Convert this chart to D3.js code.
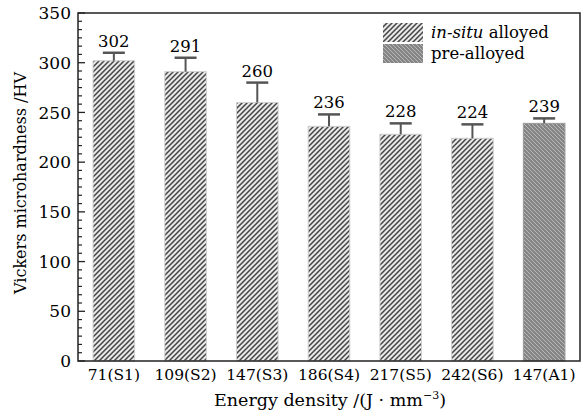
<!DOCTYPE html>
<html>
<head>
<meta charset="utf-8">
<script src="https://cdn.jsdelivr.net/npm/d3@7"></script>
<style>
  body { margin: 0; background: #fff; }
  svg { display: block; font-family: "DejaVu Serif", serif; }
</style>
</head>
<body>
<svg id="chart"></svg>
<script>
var categories = ["71(S1)", "109(S2)", "147(S3)", "186(S4)", "217(S5)", "242(S6)", "147(A1)"];
var hardness = [302, 291, 260, 236, 228, 224, 239];
var errors = [8, 14, 20, 12, 11, 14, 5];
var kinds = ["insitu", "insitu", "insitu", "insitu", "insitu", "insitu", "pre"];
var yTicks = [0, 50, 100, 150, 200, 250, 300, 350];

var width = 582;
var height = 414;
var plotLeft = 78, plotRight = 580, plotTop = 13, plotBottom = 361;

var svg = d3.select("#chart")
    .attr("width", width)
    .attr("height", height);

// hatch patterns
var defs = svg.append("defs");
var p1 = defs.append("pattern")
    .attr("id", "hatchInsitu")
    .attr("patternUnits", "userSpaceOnUse")
    .attr("width", 5)
    .attr("height", 5);
p1.append("rect").attr("width", 5).attr("height", 5).attr("fill", "#e8e8e8");
p1.append("path")
    .attr("d", "M0,5 L5,0 M-1,1 L1,-1 M4,6 L6,4")
    .attr("stroke", "#444")
    .attr("stroke-width", 1.5);

var p2 = defs.append("pattern")
    .attr("id", "hatchPre")
    .attr("patternUnits", "userSpaceOnUse")
    .attr("width", 4)
    .attr("height", 4);
p2.append("rect").attr("width", 4).attr("height", 4).attr("fill", "#858585");
p2.append("path")
    .attr("d", "M0,0 L4,4 M-1,3 L1,5 M3,-1 L5,1")
    .attr("stroke", "#b8b8b8")
    .attr("stroke-width", 1);

var xScale = d3.scaleBand()
    .domain(categories)
    .range([plotLeft, plotRight])
    .paddingInner(0.42)
    .paddingOuter(0.21);

var yScale = d3.scaleLinear()
    .domain([0, 350])
    .range([plotBottom, plotTop]);

var data = categories.map(function(c, i) {
    return { cat: c, v: hardness[i], e: errors[i], kind: kinds[i] };
});

// bars
svg.selectAll("rect.bar")
    .data(data)
    .enter()
    .append("rect")
    .attr("class", "bar")
    .attr("x", function(d) { return xScale(d.cat); })
    .attr("y", function(d) { return yScale(d.v); })
    .attr("width", xScale.bandwidth())
    .attr("height", function(d) { return yScale(0) - yScale(d.v); })
    .attr("fill", function(d) { return d.kind == "pre" ? "url(#hatchPre)" : "url(#hatchInsitu)"; })
    .attr("stroke", function(d) { return d.kind == "pre" ? "#9a9a9a" : "#cfcfcf"; })
    .attr("stroke-width", 1);

// error bars (upper only)
var cx = function(d) { return xScale(d.cat) + xScale.bandwidth() / 2; };
svg.selectAll("line.stem")
    .data(data)
    .enter()
    .append("line")
    .attr("class", "stem")
    .attr("x1", cx).attr("x2", cx)
    .attr("y1", function(d) { return yScale(d.v); })
    .attr("y2", function(d) { return yScale(d.v + d.e); })
    .attr("stroke", "#555")
    .attr("stroke-width", 2);
svg.selectAll("line.cap")
    .data(data)
    .enter()
    .append("line")
    .attr("class", "cap")
    .attr("x1", function(d) { return cx(d) - 11; })
    .attr("x2", function(d) { return cx(d) + 11; })
    .attr("y1", function(d) { return yScale(d.v + d.e); })
    .attr("y2", function(d) { return yScale(d.v + d.e); })
    .attr("stroke", "#555")
    .attr("stroke-width", 2.5);

// value labels
svg.selectAll("text.val")
    .data(data)
    .enter()
    .append("text")
    .attr("class", "val")
    .attr("x", cx)
    .attr("y", function(d) { return yScale(d.v + d.e) - 6; })
    .attr("text-anchor", "middle")
    .attr("font-size", 16.5)
    .attr("fill", "#000")
    .text(function(d) { return d.v; });

// frame
svg.append("rect")
    .attr("x", plotLeft).attr("y", plotTop)
    .attr("width", plotRight - plotLeft).attr("height", plotBottom - plotTop)
    .attr("fill", "none")
    .attr("stroke", "#222")
    .attr("stroke-width", 1.5);

// y axis ticks (inside)
var minor = [];
for (var i = 0; i < 7; i++) {
    for (var k = 1; k < 6; k++) minor.push(i * 50 + k * 50 / 6);
}
svg.selectAll("line.minor")
    .data(minor)
    .enter()
    .append("line")
    .attr("class", "minor")
    .attr("x1", plotLeft).attr("x2", plotLeft + 4)
    .attr("y1", function(d) { return yScale(d); })
    .attr("y2", function(d) { return yScale(d); })
    .attr("stroke", "#222")
    .attr("stroke-width", 1.2);
svg.selectAll("line.major")
    .data(yTicks)
    .enter()
    .append("line")
    .attr("class", "major")
    .attr("x1", plotLeft).attr("x2", plotLeft + 7)
    .attr("y1", function(d) { return yScale(d); })
    .attr("y2", function(d) { return yScale(d); })
    .attr("stroke", "#222")
    .attr("stroke-width", 1.3);
svg.selectAll("text.ytick")
    .data(yTicks)
    .enter()
    .append("text")
    .attr("class", "ytick")
    .attr("x", plotLeft - 7)
    .attr("y", function(d) { return yScale(d); })
    .attr("dy", "0.36em")
    .attr("text-anchor", "end")
    .attr("font-size", 17)
    .attr("fill", "#000")
    .text(function(d) { return d; });

// x tick labels
svg.selectAll("text.xtick")
    .data(categories)
    .enter()
    .append("text")
    .attr("class", "xtick")
    .attr("x", function(d) { return xScale(d) + xScale.bandwidth() / 2; })
    .attr("y", 380)
    .attr("text-anchor", "middle")
    .attr("font-size", 15.5)
    .attr("fill", "#000")
    .text(function(d) { return d; });

// axis titles
var xt = svg.append("text")
    .attr("x", 330)
    .attr("y", 406)
    .attr("text-anchor", "middle")
    .attr("font-size", 17.5)
    .attr("fill", "#000");
xt.append("tspan").text("Energy density /(J \u00b7 mm");
xt.append("tspan").attr("font-size", 11).attr("dy", -7).text("\u22123");
xt.append("tspan").attr("dy", 7).text(")");

svg.append("text")
    .attr("transform", "translate(26,183) rotate(-90)")
    .attr("text-anchor", "middle")
    .attr("font-size", 16)
    .attr("fill", "#000")
    .text("Vickers microhardness /HV");

// legend
var legend = [
    { fill: "url(#hatchInsitu)", y: 23 },
    { fill: "url(#hatchPre)", y: 44 }
];
svg.selectAll("rect.leg")
    .data(legend)
    .enter()
    .append("rect")
    .attr("class", "leg")
    .attr("x", 383)
    .attr("y", function(d) { return d.y; })
    .attr("width", 40)
    .attr("height", 19)
    .attr("fill", function(d) { return d.fill; });
var t1 = svg.append("text")
    .attr("x", 431).attr("y", 38)
    .attr("font-size", 16.5)
    .attr("fill", "#000");
t1.append("tspan").attr("font-style", "italic").text("in-situ");
t1.append("tspan").text(" alloyed");
svg.append("text")
    .attr("x", 431).attr("y", 59)
    .attr("font-size", 16.5)
    .attr("fill", "#000")
    .text("pre-alloyed");
</script>
</body>
</html>
